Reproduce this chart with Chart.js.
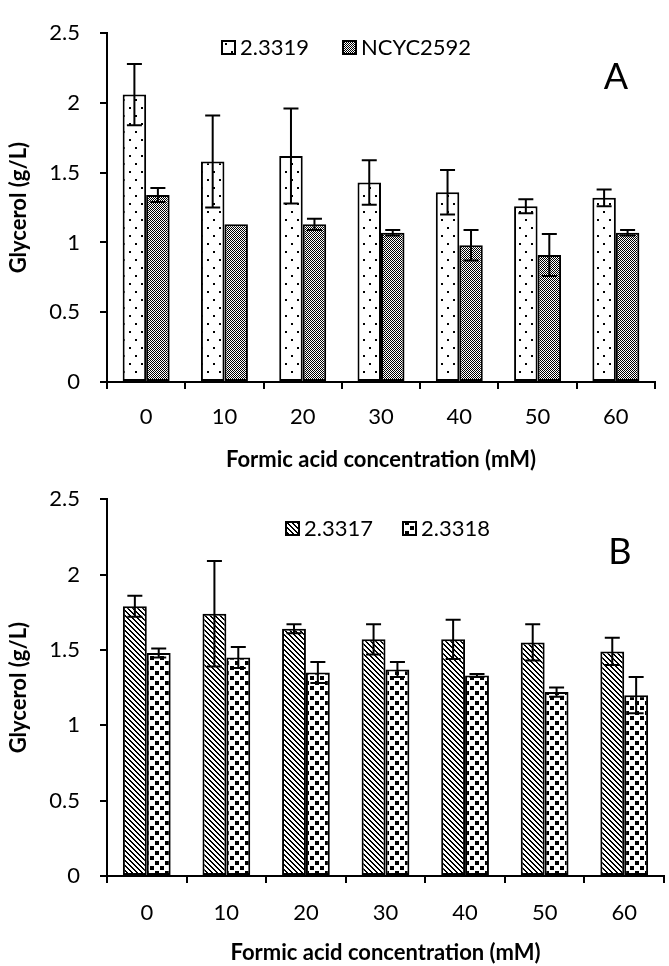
<!DOCTYPE html>
<html>
<head>
<meta charset="utf-8">
<script src="https://cdn.jsdelivr.net/npm/chart.js@4/dist/chart.umd.min.js"></script>
<style>
  html, body { margin: 0; padding: 0; background: #fff; }
  #wrap { position: relative; width: 669px; height: 966px; }
  canvas { position: absolute; left: 0; }
  #chartA { top: 0; }
  #chartB { top: 466px; }
</style>
</head>
<body>
<div id="wrap">
  <canvas id="chartA" width="669" height="472"></canvas>
  <canvas id="chartB" width="669" height="500"></canvas>
</div>
<script>
// data
const categories = ["0", "10", "20", "30", "40", "50", "60"];
const yMin = 0, yMax = 2.5, yStep = 0.5;
const yTickLabels = ["0", "0.5", "1", "1.5", "2", "2.5"];

const glyA_2_3319 = [2.06, 1.58, 1.62, 1.43, 1.36, 1.26, 1.32];
const errA_2_3319 = [0.22, 0.33, 0.34, 0.16, 0.16, 0.05, 0.06];
const glyA_NCYC2592 = [1.34, 1.13, 1.13, 1.07, 0.98, 0.91, 1.07];
const errA_NCYC2592 = [0.05, 0, 0.04, 0.02, 0.11, 0.15, 0.02];

const glyB_2_3317 = [1.79, 1.74, 1.64, 1.57, 1.57, 1.55, 1.49];
const errB_2_3317 = [0.07, 0.35, 0.03, 0.10, 0.13, 0.12, 0.09];
const glyB_2_3318 = [1.48, 1.45, 1.35, 1.37, 1.33, 1.22, 1.20];
const errB_2_3318 = [0.03, 0.07, 0.07, 0.05, 0.01, 0.03, 0.12];

const xTitle = "Formic acid concentration (mM)";
const yTitle = "Glycerol (g/L)";

Chart.defaults.font.family = "Lato, 'Open Sans', sans-serif";
Chart.defaults.font.size = 21;
Chart.defaults.color = "#000";

// fill patterns (small tiles drawn pixel by pixel)
function makePattern(w, h, bg, draw) {
  const c = document.createElement("canvas");
  c.width = w; c.height = h;
  const g = c.getContext("2d");
  g.fillStyle = bg;
  g.fillRect(0, 0, w, h);
  g.fillStyle = "#000";
  draw(g);
  return document.createElement("canvas").getContext("2d").createPattern(c, "repeat");
}

const patDots = makePattern(12, 16, "#fff", g => {
  g.fillRect(3, 3, 2, 2);
  g.fillRect(9, 11, 2, 2);
});
const patChecker = makePattern(2, 2, "#fff", g => {
  g.fillRect(0, 0, 1, 1);
  g.fillRect(1, 1, 1, 1);
});
const patDiag = makePattern(5, 5, "#fff", g => {
  for (let i = 0; i < 5; i++) {
    g.fillRect(i, i, 1, 1);
    g.fillRect((i + 1) % 5, i, 1, 1);
  }
});
const patSquares = makePattern(10, 10, "#fff", g => {
  g.fillRect(0, 0, 4, 4);
  g.fillRect(5, 5, 4, 4);
});

const errorBars = {
  id: "errorBars",
  afterDatasetsDraw(chart) {
    const ctx = chart.ctx;
    const y = chart.scales.y;
    chart.data.datasets.forEach((ds, i) => {
      chart.getDatasetMeta(i).data.forEach((bar, j) => {
        const e = ds.errors[j];
        if (!e) return;
        const top = y.getPixelForValue(ds.data[j] + e);
        const bot = y.getPixelForValue(ds.data[j] - e);
        ctx.save();
        ctx.strokeStyle = "#000";
        ctx.lineWidth = 2;
        ctx.beginPath();
        ctx.moveTo(bar.x, top); ctx.lineTo(bar.x, bot);
        ctx.moveTo(bar.x - 7.5, top); ctx.lineTo(bar.x + 7.5, top);
        ctx.moveTo(bar.x - 7.5, bot); ctx.lineTo(bar.x + 7.5, bot);
        ctx.stroke();
        ctx.restore();
      });
    });
  }
};

// legend and panel letter drawn at fixed spots
const panelLegend = {
  id: "panelLegend",
  afterDraw(chart, args, opts) {
    const ctx = chart.ctx;
    ctx.save();
    ctx.font = "22px Lato";
    ctx.textBaseline = "middle";
    ctx.textAlign = "left";
    chart.data.datasets.forEach((ds, i) => {
      const bx = opts.boxes[i], by = opts.boxY;
      ctx.fillStyle = ds.backgroundColor;
      ctx.fillRect(bx, by, 15, 15);
      ctx.strokeStyle = "#000";
      ctx.lineWidth = 2;
      ctx.strokeRect(bx + 1, by + 1, 13, 13);
      ctx.fillStyle = "#000";
      ctx.fillText(ds.label, bx + 19, by + 8);
    });
    ctx.font = "36px Lato";
    ctx.textAlign = "center";
    ctx.fillText(opts.letter, opts.letterX, opts.letterY);
    ctx.restore();
  }
};

function makeChart(id, sets, o) {
  return new Chart(document.getElementById(id), {
    type: "bar",
    data: {
      labels: categories,
      datasets: sets.map(s => ({
        label: s.label,
        data: s.data,
        errors: s.errors,
        backgroundColor: s.pattern,
        borderColor: "#000",
        borderWidth: 2,
        borderSkipped: false,
        categoryPercentage: 0.6,
        barPercentage: 1
      }))
    },
    options: {
      responsive: false,
      animation: false,
      layout: { padding: { top: o.padTop, right: o.padRight, left: 0, bottom: 0 } },
      plugins: {
        legend: { display: false },
        tooltip: { enabled: false },
        panelLegend: o.legend
      },
      scales: {
        x: {
          afterFit: s => { s.height = 90; },
          grid: { drawOnChartArea: false, color: "#000", lineWidth: 2, tickLength: 7 },
          border: { color: "#000", width: 2 },
          ticks: { padding: o.xTickPad, font: { size: 22 } },
          title: {
            display: true, text: xTitle,
            font: { size: 22, weight: "bold", lineHeight: 1 },
            padding: { top: 0, bottom: o.xTitlePad }
          }
        },
        y: {
          min: yMin, max: yMax,
          afterFit: s => { s.width = 107; },
          grid: { drawOnChartArea: false, color: "#000", lineWidth: 2, tickLength: 7 },
          border: { color: "#000", width: 2 },
          ticks: {
            stepSize: yStep, padding: 20, font: { size: 22 },
            callback: (v, i) => yTickLabels[i]
          },
          title: {
            display: true, text: yTitle,
            font: { size: 22, weight: "bold", lineHeight: 1.2 },
            padding: { top: 5.8, bottom: 0 }
          }
        }
      }
    },
    plugins: [errorBars, panelLegend]
  });
}

makeChart("chartA", [
  { label: "2.3319", data: glyA_2_3319, errors: errA_2_3319, pattern: patDots },
  { label: "NCYC2592", data: glyA_NCYC2592, errors: errA_NCYC2592, pattern: patChecker }
], {
  padTop: 19, padRight: 14, xTickPad: 15, xTitlePad: 1,
  legend: { boxes: [221, 342], boxY: 40, letter: "A", letterX: 616, letterY: 77 }
});

makeChart("chartB", [
  { label: "2.3317", data: glyB_2_3317, errors: errB_2_3317, pattern: patDiag },
  { label: "2.3318", data: glyB_2_3318, errors: errB_2_3318, pattern: patSquares }
], {
  padTop: 11, padRight: 5, xTickPad: 17, xTitlePad: 2,
  legend: { boxes: [285, 402], boxY: 55, letter: "B", letterX: 620, letterY: 86 }
});
</script>
</body>
</html>
